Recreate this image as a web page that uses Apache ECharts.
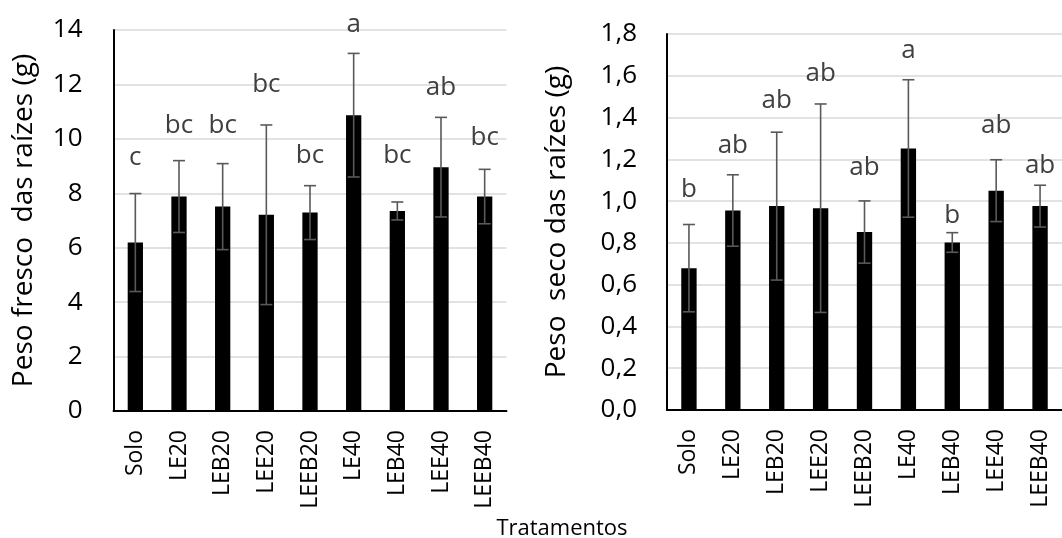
<!DOCTYPE html>
<html>
<head>
<meta charset="utf-8">
<script src="https://cdn.jsdelivr.net/npm/echarts@6/dist/echarts.min.js"></script>
<style>
html,body{margin:0;padding:0;background:#fff;}
#chart{width:1062px;height:538px;}
</style>
</head>
<body>
<div id="chart"></div>
<script>
// ---- data ----
const categories = ['Solo', 'LE20', 'LEB20', 'LEE20', 'LEEB20', 'LE40', 'LEB40', 'LEE40', 'LEEB40'];

// Fresh weight (g)
const freshMean = [6.19, 7.88, 7.51, 7.21, 7.29, 10.87, 7.35, 8.96, 7.88];
const freshErr  = [1.80, 1.32, 1.58, 3.30, 0.99, 2.27, 0.33, 1.83, 1.00];
const freshLetters = ['c', 'bc', 'bc', 'bc', 'bc', 'a', 'bc', 'ab', 'bc'];
const freshLetterAt = [9.3, 10.5, 10.5, 12.0, 9.4, 14.2, 9.4, 11.9, 10.05];

// Dry weight (g)
const dryMean = [0.679, 0.955, 0.976, 0.966, 0.852, 1.252, 0.802, 1.050, 0.976];
const dryErr  = [0.209, 0.171, 0.354, 0.499, 0.149, 0.329, 0.047, 0.148, 0.100];
const dryLetters = ['b', 'ab', 'ab', 'ab', 'ab', 'a', 'b', 'ab', 'ab'];
const dryLetterAt = [1.055, 1.268, 1.48, 1.612, 1.16, 1.722, 0.93, 1.36, 1.172];

const freshTicks = {min: 0, max: 14, interval: 2};
const dryTicks = {min: 0, max: 1.8, interval: 0.2};
const xTitle = 'Tratamentos';
const freshTitle = 'Peso fresco  das raízes (g)';
const dryTitle = 'Peso  seco das raízes (g)';

// ---- styling ----
const FONT = '"Open Sans", "Liberation Sans", sans-serif';
const chart = echarts.init(document.getElementById('chart'), null, {renderer: 'canvas'});

function errorSeries(idx, means, errs) {
  return {
    type: 'custom',
    xAxisIndex: idx, yAxisIndex: idx,
    z: 5,
    clip: false,
    data: means.map((m, i) => [i, m - errs[i], m + errs[i]]),
    renderItem: function (params, api) {
      const lo = api.coord([api.value(0), api.value(1)]);
      const hi = api.coord([api.value(0), api.value(2)]);
      const hw = 6;
      const st = {stroke: '#595959', lineWidth: 1.6};
      return {
        type: 'group',
        children: [
          {type: 'line', shape: {x1: lo[0], y1: lo[1], x2: hi[0], y2: hi[1]}, style: st},
          {type: 'line', shape: {x1: hi[0] - hw, y1: hi[1], x2: hi[0] + hw, y2: hi[1]}, style: st},
          {type: 'line', shape: {x1: lo[0] - hw, y1: lo[1], x2: lo[0] + hw, y2: lo[1]}, style: st}
        ]
      };
    }
  };
}

function letterSeries(idx, letters, at) {
  return {
    type: 'custom',
    xAxisIndex: idx, yAxisIndex: idx,
    z: 6,
    clip: false,
    data: at.map((v, i) => [i, v]),
    renderItem: function (params, api) {
      const p = api.coord([api.value(0), api.value(1)]);
      return {
        type: 'text',
        x: p[0], y: p[1],
        style: {
          text: letters[params.dataIndex],
          font: '26px ' + FONT,
          fill: '#404040',
          textAlign: 'center',
          textVerticalAlign: 'middle'
        }
      };
    }
  };
}

function xAxisCfg(idx) {
  return {
    type: 'category', gridIndex: idx, data: categories,
    axisLine: {show: true, lineStyle: {color: '#000', width: 2}},
    axisTick: {show: false},
    axisLabel: {rotate: 90, margin: 19, color: '#000', fontSize: 23, fontFamily: FONT},
    splitLine: {show: false}
  };
}

function yAxisCfg(idx, ticks, title, gap, margin, fmt) {
  return {
    type: 'value', gridIndex: idx,
    min: ticks.min, max: ticks.max, interval: ticks.interval,
    name: title, nameLocation: 'middle', nameGap: gap, nameRotate: 90,
    nameTextStyle: {color: '#000', fontSize: 28, fontFamily: FONT},
    axisLine: {show: true, lineStyle: {color: '#000', width: 2}},
    axisTick: {show: false},
    axisLabel: {margin: margin, color: '#000', fontSize: 26, fontFamily: FONT, formatter: fmt},
    splitLine: {show: true, lineStyle: {color: '#d9d9d9', width: 1.5}}
  };
}

const option = {
  animation: false,
  backgroundColor: '#fff',
  grid: [
    {left: 113.5, top: 30, width: 393, height: 381},
    {left: 667, top: 34, width: 405, height: 376}
  ],
  xAxis: [xAxisCfg(0), xAxisCfg(1)],
  yAxis: [
    yAxisCfg(0, freshTicks, freshTitle, 75, 31, v => String(v)),
    yAxisCfg(1, dryTicks, dryTitle, 96, 30, v => v.toFixed(1).replace('.', ','))
  ],
  graphic: [{
    type: 'text', x: 562, y: 529,
    style: {text: xTitle, font: '22px ' + FONT, fill: '#000', textAlign: 'center', textVerticalAlign: 'middle'}
  }],
  series: [
    {type: 'bar', xAxisIndex: 0, yAxisIndex: 0, data: freshMean, barWidth: '35%',
     itemStyle: {color: '#000'}, z: 3},
    errorSeries(0, freshMean, freshErr),
    letterSeries(0, freshLetters, freshLetterAt),
    {type: 'bar', xAxisIndex: 1, yAxisIndex: 1, data: dryMean, barWidth: '35%',
     itemStyle: {color: '#000'}, z: 3},
    errorSeries(1, dryMean, dryErr),
    letterSeries(1, dryLetters, dryLetterAt)
  ]
};
chart.setOption(option);
</script>
</body>
</html>
